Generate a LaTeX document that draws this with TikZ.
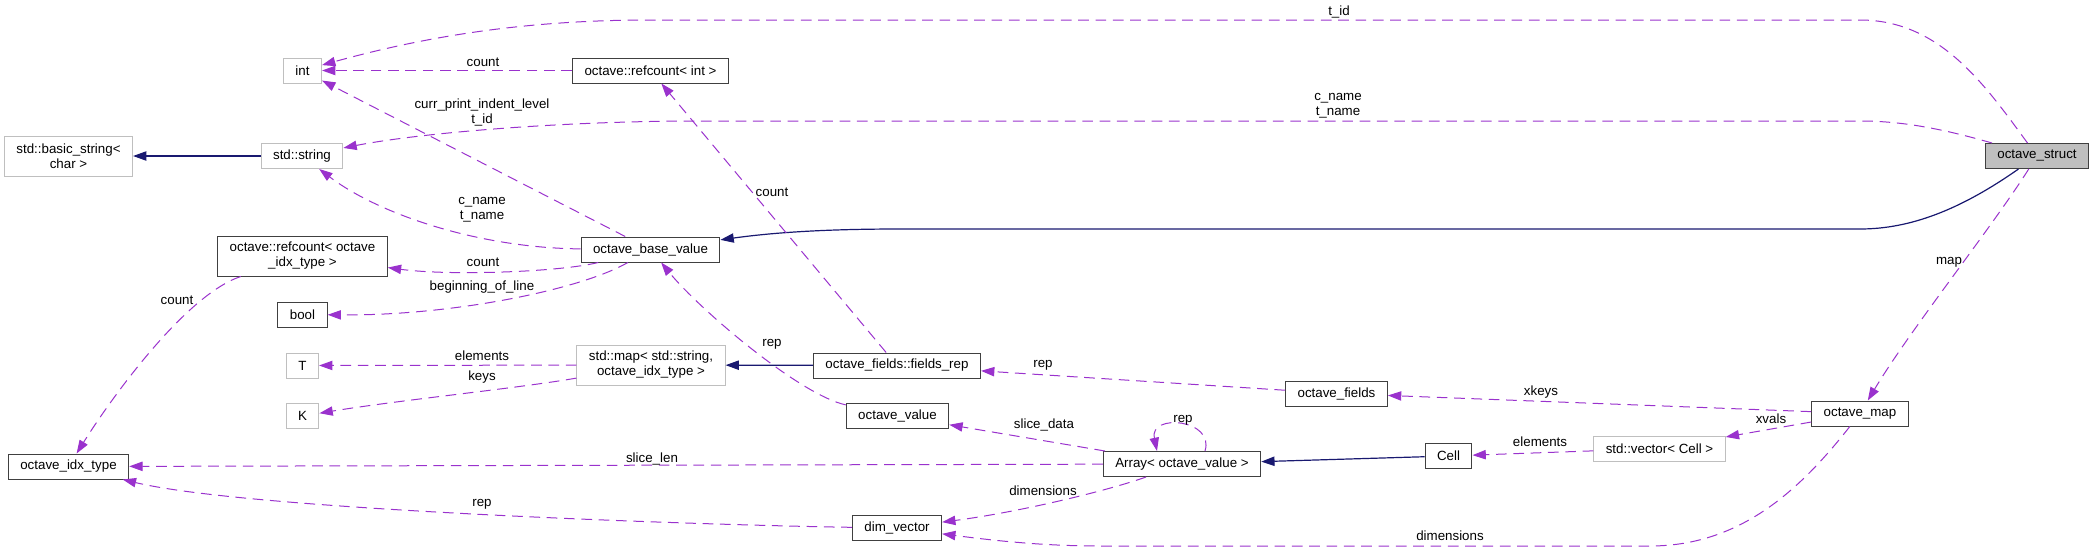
\documentclass[tikz,border=0pt]{standalone}
\usepackage{fontspec}
\setmainfont{Liberation Sans}
\usetikzlibrary{arrows.meta,calc}
\definecolor{edge-member}{HTML}{9A32CD}
\definecolor{edge-inherit}{HTML}{191970}
\definecolor{box-grey}{HTML}{BFBFBF}
\definecolor{box-dark}{HTML}{404040}

\begin{document}
\begin{tikzpicture}[x=0.75pt, y=-0.75pt,
    every node/.style={font=\fontsize{10pt}{11.25pt}\selectfont},
    cls/.style={draw=box-dark, line width=0.75pt, inner xsep=9pt, inner ysep=0pt,
      minimum height=18.75pt, align=center},
    ext/.style={cls, draw=box-grey},
    twoline/.style={minimum height=30pt},
    member/.style={draw=edge-member, line width=0.75pt, dash pattern=on 8pt off 5pt,
      -{Triangle[length=10pt, width=7pt]}},
    inherit/.style={draw=edge-inherit, line width=0.9pt,
      -{Triangle[length=10pt, width=7pt]}},
    lbl/.style={inner sep=0pt, text height=7.2pt, text depth=2.1pt},
    lbltwo/.style={inner sep=0pt, align=center}]
    \useasboundingbox (0,0) rectangle (2093,551);

    % classes
    \node[ext] (int) at (302.5,70.5) {int};
    \node[cls] (rc1) at (650.5,70.5) {octave::refcount< int >};
    \node[ext, twoline] (bs) at (68.5,156) {std::basic\_string<\\char >};
    \node[ext] (ss) at (302,156) {std::string};
    \node[cls, fill=box-grey] (st) at (2037,156) {octave\_struct};
    \node[cls] (obv) at (650.5,249.5) {octave\_base\_value};
    \node[cls, twoline] (rc2) at (302.5,256) {octave::refcount< octave\\\_idx\_type >};
    \node[cls] (bool) at (302.5,314.5) {bool};
    \node[ext] (T) at (302.5,365.5) {T};
    \node[ext] (K) at (302.5,416) {K};
    \node[ext, twoline] (map) at (651,365) {std::map< std::string,\\octave\_idx\_type >};
    \node[cls] (fr) at (897,365.5) {octave\_fields::fields\_rep};
    \node[cls] (of) at (1336.5,393.5) {octave\_fields};
    \node[cls] (ov) at (897.5,416) {octave\_value};
    \node[cls] (om) at (1860,413.5) {octave\_map};
    \node[ext] (vec) at (1659.5,448.5) {std::vector< Cell >};
    \node[cls] (cell) at (1448.5,456) {Cell};
    \node[cls] (arr) at (1182,464) {Array< octave\_value >};
    \node[cls] (oit) at (68.5,466.5) {octave\_idx\_type};
    \node[cls] (dv) at (897,528) {dim\_vector};

    % inheritance
    \draw[inherit] (ss) -- (bs);
    \draw[inherit] (fr) -- (map);
    \draw[inherit] (cell) -- (arr);
    \draw[inherit] (st) .. controls (1960,210) and (1910,229) .. (1860,229)
      -- (900,229) .. controls (820,229) and (770,233) .. (obv);

    % members
    \draw[member] (st) .. controls (1985,85) and (1940,20) .. (1860,20)
      -- (650,20) .. controls (520,20) and (420,38) .. (int)
      node[lbl] (l-tid) at (1339,12) {t\_id};
    \draw[member] (st) .. controls (1940,128) and (1900,121) .. (1860,121)
      -- (700,121) .. controls (560,121) and (420,133) .. (ss)
      node[lbltwo] (l-cname1) at (1338,106) {c\_name\\t\_name};
    \draw[member] (rc1) -- (int)
      node[lbl] (l-count1) at (483,63) {count};
    \draw[member] (obv) -- (int)
      node[lbltwo] (l-curr) at (482,112) {curr\_print\_indent\_level\\t\_id};
    \draw[member] (obv) .. controls (480,248) and (380,215) .. (ss)
      node[lbltwo] (l-cname2) at (482,210) {c\_name\\t\_name};
    \draw[member] (obv) .. controls (560,272) and (450,276) .. (rc2)
      node[lbl] (l-count2) at (483,263) {count};
    \draw[member] (obv) .. controls (580,290) and (450,316) .. (bool)
      node[lbl] (l-bol) at (482,287) {beginning\_of\_line};
    \draw[member] (ov) .. controls (800,395) and (700,310) .. (obv)
      node[lbl] (l-rep1) at (772,343) {rep};
    \draw[member] (fr) -- (rc1)
      node[lbl] (l-count3) at (772,193) {count};
    \draw[member] (of) -- (fr)
      node[lbl] (l-rep2) at (1043,364) {rep};
    \draw[member] (om) -- (of)
      node[lbl] (l-xkeys) at (1541,392) {xkeys};
    \draw[member] (om) -- (vec)
      node[lbl] (l-xvals) at (1771,420) {xvals};
    \draw[member] (vec) -- (cell)
      node[lbl] (l-elem2) at (1540,443) {elements};
    \draw[member] ($(arr.north)+(23,0)$) .. controls +(10,-32) and +(-8,-38)
      .. ($(arr.north)+(-25,0)$)
      node[lbl] (l-rep3) at (1183,419) {rep};
    \draw[member] (arr) -- (ov)
      node[lbl] (l-slice) at (1044,425) {slice\_data};
    \draw[member] (arr) -- (oit)
      node[lbl] (l-slicelen) at (652,459) {slice\_len};
    \draw[member] (arr) .. controls (1110,490) and (1020,512) .. (dv)
      node[lbl] (l-dim1) at (1043,492) {dimensions};
    \draw[member] (om) .. controls (1800,490) and (1740,546) .. (1650,546)
      -- (1100,546) .. controls (1040,546) and (990,540) .. (dv)
      node[lbl] (l-dim2) at (1450,537) {dimensions};
    \draw[member] (st) .. controls (1990,230) and (1910,330) .. (om)
      node[lbl] (l-map) at (1949,261) {map};
    \draw[member] (map) -- (T)
      node[lbl] (l-elem1) at (482,357) {elements};
    \draw[member] (map) .. controls (520,388) and (400,400) .. (K)
      node[lbl] (l-keys) at (482,377) {keys};
    \draw[member] (rc2) .. controls (185,295) and (110,400) .. (oit)
      node[lbl] (l-count4) at (177,301) {count};
    \draw[member] (dv) .. controls (700,525) and (250,510) .. (oit)
      node[lbl] (l-rep4) at (482,503) {rep};
\end{tikzpicture}
\end{document}
